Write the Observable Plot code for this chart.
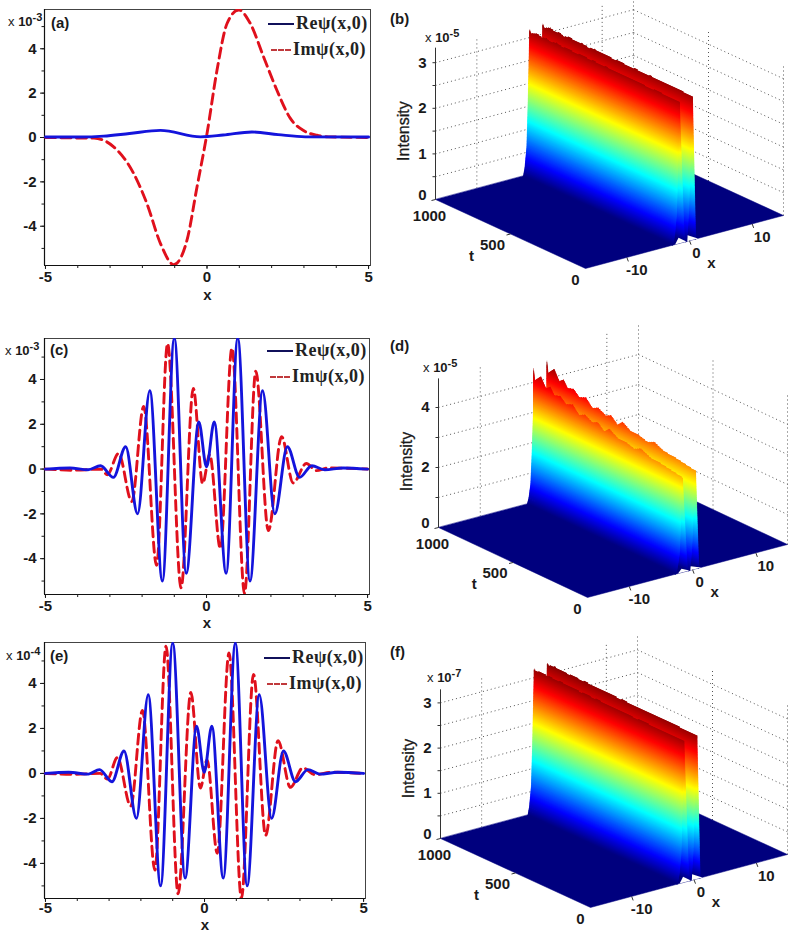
<!DOCTYPE html>
<html>
<head>
<meta charset="utf-8">
<script src="https://cdn.jsdelivr.net/npm/d3@7"></script>
<script src="https://cdn.jsdelivr.net/npm/@observablehq/plot@0.6"></script>
<style>
  body { margin: 0; background: white; }
  #page { position: relative; width: 795px; height: 931px; overflow: hidden; font-family: "Liberation Sans", Arial, sans-serif; color: #1a1a1a; }
  #page svg { position: absolute; overflow: hidden; }
  .tag { position: absolute; font-weight: bold; font-size: 15px; line-height: 15px; }
  .exp { position: absolute; font-size: 13px; line-height: 13px; white-space: nowrap; }
  .exp sup { font-size: 11px; font-weight: bold; line-height: 0; }
  .lg { position: absolute; font-family: "Liberation Serif", serif; font-weight: bold; font-size: 18px; line-height: 18px; letter-spacing: 0.5px; white-space: nowrap; color: #222; }
  .sw { position: absolute; height: 0; }
</style>
</head>
<body>
<div id="page"></div>
<script>
// panel (a)
const xReA = [-5, -3.9, -3.2, -2.4, -1.44, -0.2, 0.5, 1.39, 2.2, 3.04, 5]
const reA = [0.02, 0.02, 0.06, 0.18, 0.32, 0.03, 0.11, 0.25, 0.13, 0.03, 0.02]
const xImA = [-5, -4.12, -3.5, -2.89, -2.27, -1.86, -1.44, -1.03, -0.62, -0.31, 0, 0.31, 0.62, 0.98, 1.34, 1.75, 2.16, 2.58, 3, 3.4, 3.76, 5]
const imA = [0, -0.02, -0.03, -0.42, -1.62, -2.98, -4.78, -5.73, -4.63, -2.23, 0.18, 3.04, 5.14, 5.75, 5.14, 3.64, 2.14, 0.86, 0.3, 0.1, 0.03, 0]

// panel (c)
const xReC = [-5, -4.24, -3.68, -3.29, -2.89, -2.51, -2.14, -1.76, -1.37, -1, -0.63, -0.24, 0, 0.24, 0.61, 0.97, 1.35, 1.74, 2.12, 2.51, 2.89, 3.27, 3.67, 4.23, 5]
const reC = [0, 0.05, -0.03, 0.15, -0.37, 1, -2, 3.5, -5, 5.85, -4.65, 2.1, 0.1, 2.1, -4.65, 5.85, -5, 3.5, -2, 1, -0.37, 0.15, -0.03, 0.05, 0]
const xImC = [-5, -4.14, -3.27, -3.08, -2.73, -2.32, -1.95, -1.55, -1.21, -0.79, -0.41, -0.12, 0.1, 0.43, 0.79, 1.18, 1.53, 1.92, 2.33, 2.69, 3.1, 3.41, 3.77, 5]
const imC = [0, -0.05, 0, -0.25, 0.7, -1.45, 2.8, -4.3, 5.6, -5.3, 3.6, -0.65, 0.65, -3.55, 5.4, -5.55, 4.37, -2.75, 1.45, -0.62, 0.25, -0.07, 0.05, 0]

// panel (e)
const xReE = [-5, -4.27, -3.65, -3.3, -2.91, -2.53, -2.14, -1.77, -1.38, -1, -0.61, -0.25, -0.01, 0.23, 0.59, 0.97, 1.34, 1.72, 2.11, 2.48, 2.86, 3.25, 3.62, 4.19, 5]
const reE = [0, 0.05, -0.03, 0.17, -0.37, 1, -2, 3.5, -5, 5.8, -4.65, 2.1, 0.05, 2.1, -4.65, 5.8, -5, 3.5, -2, 1, -0.37, 0.17, -0.03, 0.05, 0]
const xImE = [-5, -4.11, -3.28, -3.05, -2.74, -2.32, -1.95, -1.56, -1.21, -0.83, -0.43, -0.13, 0.08, 0.4, 0.77, 1.16, 1.54, 1.92, 2.31, 2.7, 3.09, 3.46, 4.03, 5]
const imE = [0, -0.04, 0, -0.25, 0.7, -1.45, 2.8, -4.3, 5.65, -5.35, 3.6, -0.65, 0.6, -3.55, 5.35, -5.55, 4.4, -2.75, 1.45, -0.62, 0.25, -0.05, 0.05, 0]

// ridge height along t, panels (b), (d), (f)
const ridgeT = [1000, 991, 951, 917, 888, 861, 821, 783, 738, 694, 656, 604, 570, 526, 492, 436, 380, 324, 280, 212, 145, 78, 0]
const ridgeB = [3.22, 3.14, 3.2, 3.16, 3.19, 3.15, 3.19, 3.16, 3.18, 3.15, 3.18, 3.16, 3.17, 3.15, 3.17, 3.15, 3.16, 3.15, 3.16, 3.14, 3.15, 3.14, 3.13]
const ridgeD = [4.61, 4.2, 4.43, 4.1, 4.22, 4, 4.06, 3.88, 3.97, 3.72, 3.82, 3.68, 3.77, 3.56, 3.73, 3.55, 3.54, 3.45, 3.56, 3.4, 3.37, 3.31, 3.24]
const ridgeF = [3.24, 3.2, 3.23, 3.21, 3.22, 3.2, 3.22, 3.2, 3.21, 3.19, 3.2, 3.19, 3.2, 3.18, 3.19, 3.18, 3.18, 3.17, 3.18, 3.17, 3.17, 3.16, 3.16]

// pulse cross section: share of the ridge height against x, one list per flank
const flankShare = [0, 0.06, 0.2, 0.5, 1]
const hump1Left = [-2.6, -2.35, -2.05, -1.85, -1.6]
const hump1Right = [-0.55, -0.8, -0.95, -1.2, -1.6]
const hump2Left = [-0.45, -0.3, -0.1, 0.1, 0.5]
const hump2Right = [1.05, 0.98, 0.9, 0.75, 0.5]

// white gaps under the two humps at t=0
const gapX = [[-2.3, -1.75, -0.5], [-0.35, -0.3, 1.35]]
const gapZ = [0, 0.13, 0]

const jetStops = [0, 0.11, 0.36, 0.61, 0.86, 1]
const jetColors = ["#000080", "#0000ff", "#00ffff", "#ffff00", "#ff0000", "#800000"]

const xTicks3d = [-10, 0, 10]
const xRange3d = [-16.6, 15]
const page = document.getElementById("page")

function place(svg, left, top) {
  svg.style.left = left + "px"
  svg.style.top = top + "px"
  page.append(svg)
}

function addHtml(cls, left, top, html, extra) {
  const el = document.createElement("div")
  el.className = cls
  el.style.left = left + "px"
  el.style.top = top + "px"
  el.innerHTML = html
  if (extra) el.style.cssText += extra
  page.append(el)
}

function table(xs, ys) {
  return xs.map((x, i) => ({ x, y: ys[i] }))
}

function linePanel(p) {
  const minor = d3.range(-5, 6)
  const chart = Plot.plot({
    width: 390,
    height: p.height,
    marginLeft: 44,
    marginRight: 390 - p.right,
    marginTop: p.top,
    marginBottom: p.bottom,
    style: { fontFamily: "Liberation Sans", fontSize: "15px", fontWeight: "bold", color: "#1a1a1a", background: "transparent" },
    x: { domain: [-5.03, 5.06] },
    y: { domain: p.yDomain },
    marks: [
      Plot.frame({ stroke: "#444", strokeWidth: 1 }),
      Plot.ruleX([-5.03], { stroke: "#111", strokeWidth: 1.2 }),
      Plot.ruleY([p.yDomain[0]], { stroke: "#111", strokeWidth: 1.2 }),
      Plot.axisX(d3.range(-5, 6), { ticks: d3.range(-5, 6), tickSize: 3, text: null, label: null, strokeWidth: 1 }),
      Plot.axisX({ ticks: [-5, 0, 5], tickSize: 4, tickPadding: p.xPad, tickFormat: d => String(d), label: "x", labelAnchor: "center", labelArrow: "none", labelOffset: p.xOffset }),
      Plot.axisY(minor, { ticks: minor, tickSize: 2.5, text: null, label: null }),
      Plot.axisY({ ticks: [-4, -2, 0, 2, 4], tickSize: 4, tickPadding: 4, tickFormat: d => String(d), label: null }),
      Plot.line(table(p.xIm, p.im), { x: "x", y: "y", curve: "monotone-x", stroke: "#e0101c", strokeWidth: 2.9, strokeDasharray: "10,5.5", clip: true }),
      Plot.line(table(p.xRe, p.re), { x: "x", y: "y", curve: "monotone-x", stroke: "#1414dc", strokeWidth: 2.9, clip: true })
    ]
  })
  place(chart, 0, p.y0)

  addHtml("tag", p.tag[0], p.tag[1], p.letter)
  addHtml("exp", p.exp[0], p.exp[1], "x <b>10</b><sup>" + p.power + "</sup>")
  addHtml("sw", p.lg[0], p.lg[1], "", "width:26px;border-top:2.5px solid #10105a")
  addHtml("lg", p.lg[0] + 28, p.lg[1] - 9, "Reψ(x,0)")
  addHtml("sw", p.lg[0] + 3, p.lg[1] + 26, "", "width:20px;border-top:2.5px dashed #c0393c")
  addHtml("lg", p.lg[0] + 25, p.lg[1] + 17, "Imψ(x,0)")
}

// level lines of one flank, cut where the ridge falls below the level
function levelRuns(level, zs) {
  const runs = []
  let cur = null
  for (let i = 0; i < zs.length - 1; i++) {
    const za = zs[i], zb = zs[i + 1], ta = ridgeT[i], tb = ridgeT[i + 1]
    if (za < level && zb < level) {
      if (cur) { runs.push(cur); cur = null }
      continue
    }
    const cross = za === zb ? ta : ta + (level - za) / (zb - za) * (tb - ta)
    const start = za >= level ? ta : cross
    const end = zb >= level ? tb : cross
    if (!cur) cur = [start, end]
    else cur[1] = end
    if (zb < level) { runs.push(cur); cur = null }
  }
  if (cur) runs.push(cur)
  return runs
}

function surfacePanel(p) {
  const W = 405, H = p.height
  const [o, f, r] = [p.corners[0], p.corners[1], p.corners[2]]
  const [xMin, xMax] = xRange3d
  const project = (x, t, z) => {
    const u = (x - xMin) / (xMax - xMin), v = (1000 - t) / 1000
    return {
      px: o[0] + u * (r[0] - f[0]) + v * (f[0] - o[0]) - 390,
      py: o[1] + u * (r[1] - f[1]) + v * (f[1] - o[1]) - z * p.zPx - p.y0
    }
  }

  // back walls
  const gridLinks = []
  const seg = (a, b) => {
    const s = project(...a), e = project(...b)
    gridLinks.push({ x1: s.px, y1: s.py, x2: e.px, y2: e.py })
  }
  p.zGrid.forEach(z => {
    seg([xMin, 1000, z], [xMax, 1000, z])
    seg([xMax, 1000, z], [xMax, 0, z])
  })
  ;[[-10, 1000], [10, 1000], [xMax, 1000], [xMax, 500], [xMax, 0]].forEach(([x, t]) => seg([x, t, 0], [x, t, p.zTop]))

  const floor = [[xMin, 1000], [xMin, 0], [xMax, 0], [xMax, 1000]].map(([x, t]) => project(x, t, 0))

  // flanks, drawn from the far side to the near side
  const zNorm = d3.min(p.ridge)
  const levels = d3.range(0, d3.max(p.ridge) + 0.01, 0.9 / p.zPx)
  const wall = []
  const addFlank = (xs, zs, order) => {
    const xAt = d3.scaleLinear().domain(flankShare).range(xs).clamp(true)
    order.forEach(level => {
      const x = xAt(level / zNorm)
      levelRuns(level, zs).forEach(([ta, tb]) => {
        const s = project(x, ta, level), e = project(x, tb, level)
        wall.push({ x1: s.px, y1: s.py, x2: e.px, y2: e.py, z: level })
      })
    })
  }
  const down = levels.slice().reverse()
  const ridge1 = p.ridge.map(z => z * p.hump1)
  addFlank(hump2Right, p.ridge, levels)
  addFlank(hump2Left, p.ridge, down)
  addFlank(hump1Right, ridge1, levels)
  addFlank(hump1Left, ridge1, down)

  const gaps = gapX.map(xs => xs.map((x, i) => project(x, 0, gapZ[i])))

  // tick marks and labels
  const tickLinks = []
  const tick = (a, dx, dy) => {
    const s = project(...a)
    tickLinks.push({ x1: s.px, y1: s.py, x2: s.px + dx, y2: s.py + dy })
  }
  p.zGrid.forEach(z => tick([xMin, 1000, z], -3, 0))
  xTicks3d.forEach(x => tick([x, 0, 0], 1.5, 4))
  ;[1000, 500].forEach(t => tick([xMin, t, 0], -4, 1))

  const labels = []
  const label = (a, dx, dy, text) => {
    const s = project(...a)
    labels.push({ x: s.px + dx, y: s.py + dy, text })
  }
  p.zLabels.forEach(z => label([xMin, 1000, z], -13, z === 0 ? -4 : 0, String(z)))
  label([xMin, 1000, 0], -6, 17, "1000")
  label([xMin, 500, 0], -18, 11, "500")
  label([xMin, 0, 0], -10, 12, "0")
  xTicks3d.forEach(x => label([x, 0, 0], x === 0 ? 7 : 10, 13, String(x)))
  label([3.5, 0, 0], 0, 28, "x")
  label([xMin, 700, 0], -9, 36, "t")
  const side = project(xMin, 1000, p.zLabel)

  const chart = Plot.plot({
    width: W,
    height: H,
    margin: 0,
    style: { fontFamily: "Liberation Sans", background: "transparent" },
    x: { domain: [0, W], axis: null },
    y: { domain: [H, 0], axis: null },
    color: { type: "linear", domain: jetStops.map(s => s * p.zColor), range: jetColors, clamp: true },
    marks: [
      Plot.link(gridLinks, { x1: "x1", y1: "y1", x2: "x2", y2: "y2", stroke: "#555", strokeWidth: 1, strokeDasharray: "1,3" }),
      Plot.line(floor, { x: "px", y: "py", curve: "linear-closed", fill: "#00007e", stroke: "#00007e", strokeWidth: 0.5 }),
      Plot.link(wall, { x1: "x1", y1: "y1", x2: "x2", y2: "y2", stroke: "z", strokeWidth: 1.8 }),
      ...gaps.map(g => Plot.line(g, { x: "px", y: "py", curve: "linear-closed", fill: "white", stroke: "none" })),
      Plot.link(tickLinks, { x1: "x1", y1: "y1", x2: "x2", y2: "y2", stroke: "#333", strokeWidth: 1 }),
      Plot.link([0], { x1: project(xMin, 1000, 0).px, y1: project(xMin, 1000, 0).py, x2: project(xMin, 1000, p.zTop).px, y2: project(xMin, 1000, p.zTop).py, stroke: "#333", strokeWidth: 1 }),
      Plot.text(labels, { x: "x", y: "y", text: "text", fontSize: 15, fontWeight: "bold", fill: "#1a1a1a" }),
      Plot.text(["Intensity"], { x: side.px - 32, y: side.py, text: d => d, rotate: -90, fontSize: 16, fill: "#1a1a1a", stroke: "#1a1a1a", strokeWidth: 0.3 })
    ]
  })
  place(chart, 390, p.y0)

  addHtml("tag", p.tag[0], p.tag[1], p.letter)
  addHtml("exp", p.exp[0], p.exp[1], "x <b>10</b><sup>" + p.power + "</sup>")
}

linePanel({ y0: 0, height: 310, top: 9, bottom: 45, right: 370, xOffset: 34, xPad: 2, yDomain: [-5.77, 5.77], xRe: xReA, re: reA, xIm: xImA, im: imA, letter: "(a)", tag: [51, 15], exp: [8, 15], power: "-3", lg: [268, 23] })
linePanel({ y0: 320, height: 310, top: 18, bottom: 36, right: 369, xOffset: 33, xPad: 2, yDomain: [-5.6, 5.83], xRe: xReC, re: reC, xIm: xImC, im: imC, letter: "(c)", tag: [50, 342], exp: [5, 344], power: "-3", lg: [267, 350] })
linePanel({ y0: 625, height: 306, top: 17, bottom: 33, right: 365, xOffset: 31, xPad: 0, yDomain: [-5.56, 5.82], xRe: xReE, re: reE, xIm: xImE, im: imE, letter: "(e)", tag: [50, 648], exp: [6, 649], power: "-4", lg: [264, 657] })

surfacePanel({ y0: 0, height: 310, corners: [[435, 199], [585, 268], [783, 215]], zPx: 45.6, zTop: 3.33, zColor: 3.25, ridge: ridgeB, hump1: 0.985, zGrid: [0.5, 1, 1.5, 2, 2.5, 3], zLabels: [0, 1, 2, 3], zLabel: 1.5, letter: "(b)", tag: [390, 11], exp: [425, 31], power: "-5" })
surfacePanel({ y0: 320, height: 310, corners: [[438, 527], [587, 597], [787, 544]], zPx: 30, zTop: 4.97, zColor: 4.6, ridge: ridgeD, hump1: 0.97, zGrid: [1, 2, 3, 4], zLabels: [0, 2, 4], zLabel: 2.2, letter: "(d)", tag: [390, 338], exp: [423, 361], power: "-5" })
surfacePanel({ y0: 625, height: 306, corners: [[440, 838], [590, 907], [787, 854]], zPx: 45.2, zTop: 3.3, zColor: 3.25, ridge: ridgeF, hump1: 0.985, zGrid: [0.5, 1, 1.5, 2, 2.5, 3], zLabels: [0, 1, 2, 3], zLabel: 1.55, letter: "(f)", tag: [390, 644], exp: [427, 671], power: "-7" })
</script>
</body>
</html>
